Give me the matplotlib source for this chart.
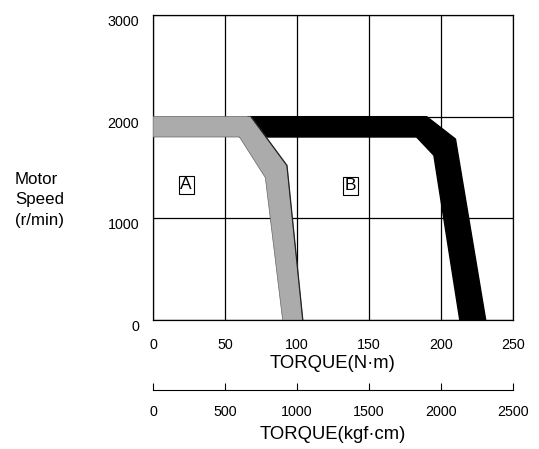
import matplotlib
matplotlib.use('Agg')
import matplotlib.pyplot as plt

plt.rcParams['font.family'] = ['Liberation Sans', 'DejaVu Sans']

# Region A (gray): outline of the torque/speed band
a_torque = [0, 68, 93, 104, 90, 78, 60, 0]
a_speed = [2000, 2000, 1520, 0, 0, 1400, 1800, 1800]

# Region B (black)
b_torque = [66, 190, 210, 231, 213, 195, 183, 60]
b_speed = [2000, 2000, 1780, 0, 0, 1620, 1800, 1800]

x_ticks = [0, 50, 100, 150, 200, 250]
y_ticks = [0, 1000, 2000, 3000]
kgf_ticks = [0, 500, 1000, 1500, 2000, 2500]

fig = plt.figure(figsize=(5.39, 4.49), dpi=100)
ax = fig.add_axes([0.2839, 0.2873, 0.668, 0.6793])

ax.fill(b_torque, b_speed, color='black', zorder=2)
ax.fill(a_torque, a_speed, facecolor='#ababab', edgecolor='#666666',
        linewidth=0.5, zorder=3)
# darker right-hand edge of the gray band
ax.plot(a_torque[1:4], a_speed[1:4], color='#222222', linewidth=0.9, zorder=3)

ax.set_xlim(0, 250)
ax.set_ylim(0, 3000)
ax.set_xticks(x_ticks)
ax.set_yticks(y_ticks)
ax.grid(True, color='black', linewidth=0.9, zorder=1)
ax.set_axisbelow(True)
ax.tick_params(length=0, labelsize=10.3)
ax.tick_params(axis='x', pad=13)
ax.tick_params(axis='y', pad=10)
for lbl in ax.get_yticklabels():
    lbl.set_va('top')
ax.set_xlabel('TORQUE(N·m)', fontsize=13.3, labelpad=2)
for s in ax.spines.values():
    s.set_linewidth(0.9)

ax.text(23, 1330, 'A', fontsize=12.5, ha='center', va='center', zorder=4,
        bbox=dict(boxstyle='square,pad=0.1', facecolor='white', edgecolor='black', linewidth=0.8))
ax.text(137, 1320, 'B', fontsize=12.5, ha='center', va='center', zorder=4,
        bbox=dict(boxstyle='square,pad=0.1', facecolor='white', edgecolor='black', linewidth=0.8))

fig.text(0.028, 0.555, 'Motor\nSpeed\n(r/min)', fontsize=12.2, ha='left', va='center',
         linespacing=1.45)

# second torque scale in kgf·cm
ax2 = fig.add_axes([0.2839, 1 - 390 / 449, 0.668, 0.0001])
ax2.set_xlim(0, 2500)
ax2.set_xticks(kgf_ticks)
ax2.set_yticks([])
for side in ['top', 'left', 'right']:
    ax2.spines[side].set_visible(False)
ax2.spines['bottom'].set_linewidth(0.8)
ax2.tick_params(axis='x', direction='in', length=5, width=0.8, labelsize=10.3, pad=11)
ax2.set_xlabel('TORQUE(kgf·cm)', fontsize=13.3, labelpad=5)

fig.savefig('out.png', dpi=100)
